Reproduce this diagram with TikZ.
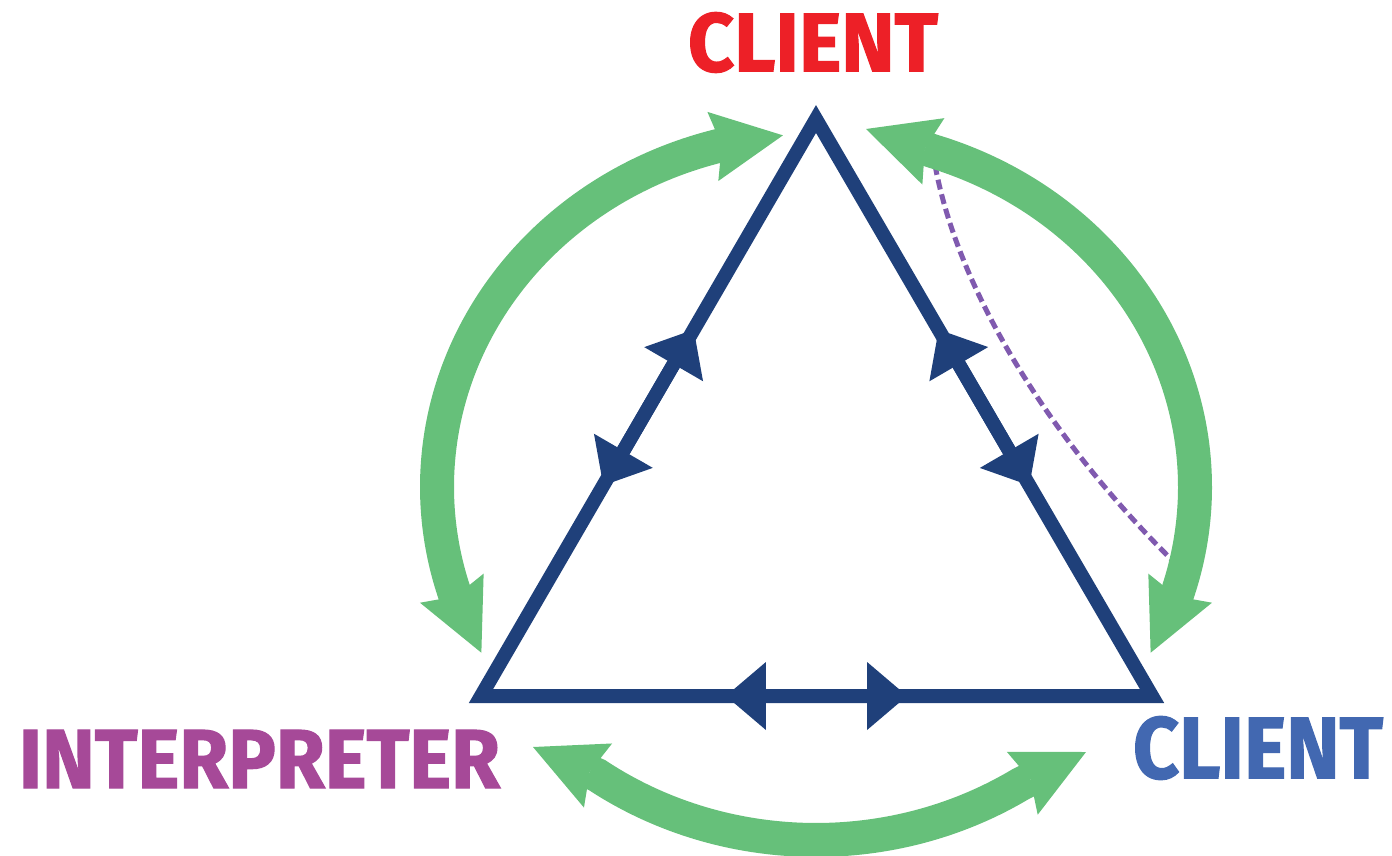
\documentclass[tikz,border=0pt]{standalone}
\usepackage{fontspec}
\setmainfont{Fira Sans}
\newfontfamily\heavyfont{Fira Sans}[BoldFeatures={FakeBold=1.5}]
\usetikzlibrary{arrows.meta,bending,calc}

\definecolor{navy}{RGB}{31,64,122}
\definecolor{leaf}{RGB}{102,192,122}
\definecolor{clientred}{RGB}{237,32,39}
\definecolor{interpurple}{RGB}{166,73,152}
\definecolor{clientblue}{RGB}{66,104,177}
\definecolor{dashviolet}{RGB}{128,90,175}

\begin{document}
\begin{tikzpicture}[x=1pt,y=-1pt,
  side/.style={draw=navy, line width=14pt},
  navyhead/.style={arrows={-Triangle[length=40pt,width=68pt,line width=0pt]}},
  flow/.style={draw=leaf, line width=34pt,
    arrows={Stealth[length=71pt,width=70pt,inset=9pt,line width=0pt]-Stealth[length=71pt,width=70pt,inset=9pt,line width=0pt]}},
  dashline/.style={draw=dashviolet, line width=5pt, dash pattern=on 10pt off 5pt},
  tag/.style={inner sep=0pt, font=\heavyfont\bfseries}]

\useasboundingbox (0,0) rectangle (1392,856);

% labels of the three corners
\node[tag, text=clientred]   (top)    at (813,42.5) {\resizebox{250pt}{59pt}{CLIENT}};
\node[tag, text=interpurple] (interp) at (259.5,759) {\resizebox{481pt}{58pt}{INTERPRETER}};
\node[tag, text=clientblue]  (right)  at (1258,748) {\resizebox{250pt}{62pt}{CLIENT}};

% dashed link running under the right-hand green arrow
\coordinate (d1) at (935,165);
\coordinate (d2) at (1175,563);
\draw[dashline] (d1) .. controls (960,300) and (1060,450) .. (d2);

% green cycle arrows on a common ellipse
\coordinate (O) at (816,487);
\draw[flow] ([shift={(95:379pt and 353pt)}]O)
  arc[start angle=95, end angle=208, x radius=379pt, y radius=353pt];
\coordinate (rt) at (866,129);
\draw[flow] (rt) -- ([shift={(72:379pt and 353pt)}]O)
  arc[start angle=72, end angle=-28, x radius=379pt, y radius=353pt];
\coordinate (bl) at (533,747);
\coordinate (br) at (1086,752);
\draw[flow] (bl) -- ([shift={(-125.3:379pt and 353pt)}]O)
  arc[start angle=-125.3, end angle=-57.3, x radius=379pt, y radius=353pt] -- (br);

% triangle and its double-headed sides
\coordinate (A) at (816,119);
\coordinate (B) at (481,696);
\coordinate (C) at (1152,696);
\draw[side, miter limit=10] (A) -- (B) -- (C) -- cycle;
\foreach \p/\q in {A/B,B/A,B/C,C/B,C/A,A/C}
  \draw[side, navyhead] ($(\p)!0.5!(\q)$) -- ($(\p)!0.365!(\q)$);
\end{tikzpicture}
\end{document}
